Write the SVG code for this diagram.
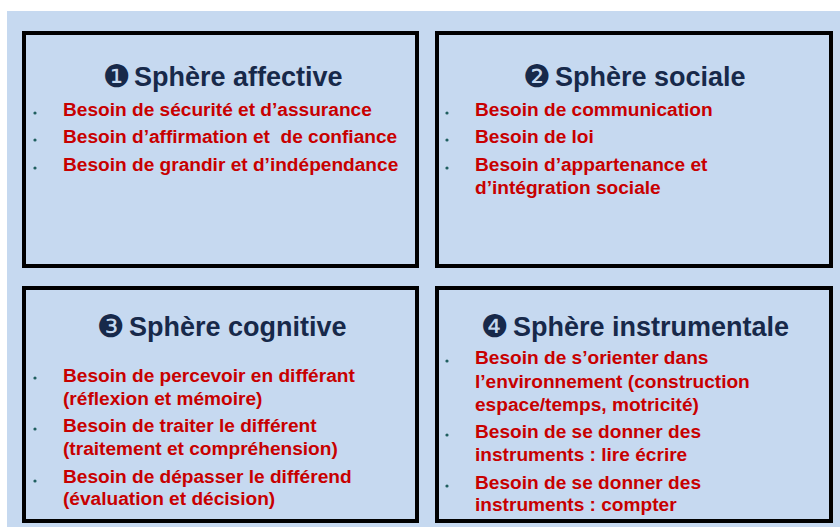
<svg xmlns="http://www.w3.org/2000/svg" width="840" height="527" viewBox="0 0 840 527">
<style>
.box{fill:#c6d9f0;stroke:#000;stroke-width:4}
.title{font-family:"Liberation Sans",Arial,sans-serif;font-weight:bold;font-size:27px;fill:#17294a}
.num{font-family:"DejaVu Sans",sans-serif;font-size:31px;fill:#17294a}
.item{font-family:"Liberation Sans",Arial,sans-serif;font-weight:bold;font-size:19.1px;fill:#c80000}
.dot{fill:#1f5f5f}
</style>
<rect x="0" y="0" width="840" height="527" fill="#ffffff"/>
<rect x="7" y="11" width="833" height="516" fill="#c6d9f0"/>
<g id="affective">
<rect class="box" x="24" y="33" width="393" height="233"/>
<text class="num" x="103" y="87">❶</text>
<text class="title" x="134" y="86">Sphère affective</text>
<circle class="dot" cx="35" cy="113" r="1.6"/>
<circle class="dot" cx="35" cy="140" r="1.6"/>
<circle class="dot" cx="35" cy="168" r="1.6"/>
<text class="item" x="63" y="116">Besoin de sécurité et d’assurance</text>
<text class="item" x="63" y="143" xml:space="preserve">Besoin d’affirmation et  de confiance</text>
<text class="item" x="63" y="171">Besoin de grandir et d’indépendance</text>
</g>
<g id="sociale">
<rect class="box" x="437" y="33" width="394" height="233"/>
<text class="num" x="523" y="87">❷</text>
<text class="title" x="555" y="86">Sphère sociale</text>
<circle class="dot" cx="447" cy="113" r="1.6"/>
<circle class="dot" cx="447" cy="140" r="1.6"/>
<circle class="dot" cx="447" cy="168" r="1.6"/>
<text class="item" x="475" y="116">Besoin de communication</text>
<text class="item" x="475" y="143">Besoin de loi</text>
<text class="item" x="475" y="171">Besoin d’appartenance et</text>
<text class="item" x="475" y="194">d’intégration sociale</text>
</g>
<g id="cognitive">
<rect class="box" x="24" y="288" width="393" height="233"/>
<text class="num" x="97" y="337">❸</text>
<text class="title" x="129" y="336">Sphère cognitive</text>
<circle class="dot" cx="35" cy="378" r="1.6"/>
<circle class="dot" cx="35" cy="429" r="1.6"/>
<circle class="dot" cx="35" cy="481" r="1.6"/>
<text class="item" x="63" y="382">Besoin de percevoir en différant</text>
<text class="item" x="63" y="405">(réflexion et mémoire)</text>
<text class="item" x="63" y="432">Besoin de traiter le différent</text>
<text class="item" x="63" y="455">(traitement et compréhension)</text>
<text class="item" x="63" y="483">Besoin de dépasser le différend</text>
<text class="item" x="63" y="505">(évaluation et décision)</text>
</g>
<g id="instrumentale">
<rect class="box" x="437" y="288" width="394" height="233"/>
<text class="num" x="481" y="337">❹</text>
<text class="title" x="513" y="336">Sphère instrumentale</text>
<circle class="dot" cx="447" cy="361" r="1.6"/>
<circle class="dot" cx="447" cy="435" r="1.6"/>
<circle class="dot" cx="447" cy="486" r="1.6"/>
<text class="item" x="475" y="364">Besoin de s’orienter dans</text>
<text class="item" x="475" y="388">l’environnement (construction</text>
<text class="item" x="475" y="411">espace/temps, motricité)</text>
<text class="item" x="475" y="438">Besoin de se donner des</text>
<text class="item" x="475" y="461">instruments : lire écrire</text>
<text class="item" x="475" y="489">Besoin de se donner des</text>
<text class="item" x="475" y="511">instruments : compter</text>
</g>
<g id="connectors"/>
</svg>
